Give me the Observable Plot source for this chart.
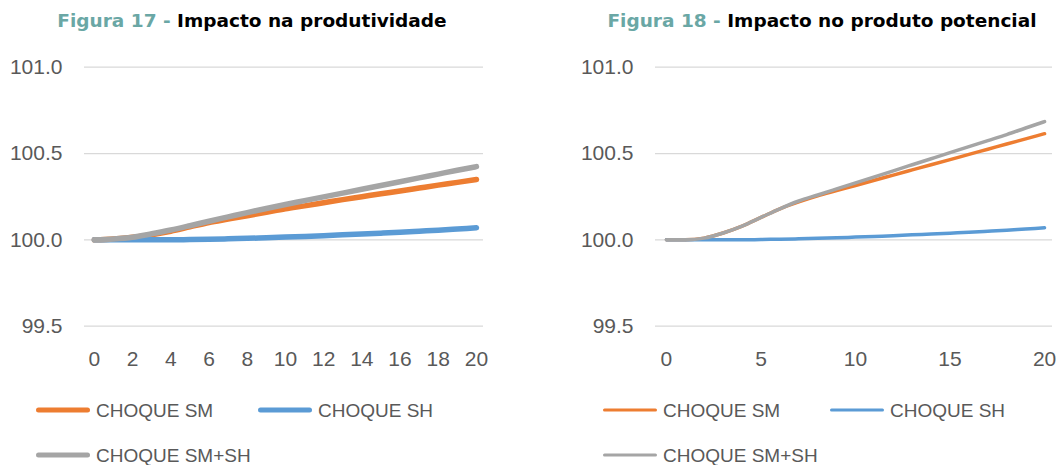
<!DOCTYPE html>
<html>
<head>
<meta charset="utf-8">
<script src="https://cdn.jsdelivr.net/npm/d3@7"></script>
<script src="https://cdn.jsdelivr.net/npm/@observablehq/plot@0.6"></script>
<style>
  html, body { margin: 0; padding: 0; background: #fff; }
  #root { position: relative; width: 1057px; height: 465px; overflow: hidden; }
  .title { position: absolute; top: 11px; font-family: "DejaVu Sans", Verdana, sans-serif; font-weight: bold; font-size: 18.5px; line-height: 1.1; white-space: nowrap; transform: translateX(-50%); color: #000; }
  .title .fig { color: #6aa7a5; }
  .chart { position: absolute; top: 0; }
  .leg { position: absolute; font-family: "Liberation Sans", sans-serif; font-size: 19px; line-height: 1; color: #595959; white-space: nowrap; display: flex; align-items: center; transform: translateY(-50%); }
  .sw { display: inline-block; width: 54px; border-radius: 3px; margin-right: 6px; }
</style>
</head>
<body>
<div id="root"></div>
<script>
// ---- data ----
const periods = d3.range(0, 21);

// Figura 17 - Impacto na produtividade
const prodSM   = [100.000,100.005,100.015,100.030,100.050,100.075,100.100,100.120,100.140,100.160,100.180,100.197,100.215,100.233,100.250,100.267,100.283,100.300,100.317,100.333,100.350];
const prodSH   = [100.000,100.000,100.000,100.000,100.000,100.002,100.004,100.006,100.009,100.012,100.016,100.020,100.024,100.029,100.034,100.039,100.044,100.050,100.056,100.063,100.070];
const prodSMSH = [100.000,100.005,100.015,100.035,100.057,100.082,100.108,100.133,100.158,100.182,100.205,100.227,100.249,100.271,100.293,100.315,100.337,100.359,100.381,100.403,100.424];

// Figura 18 - Impacto no produto potencial
const potSM   = [100.000,100.000,100.010,100.040,100.080,100.130,100.180,100.220,100.255,100.285,100.315,100.345,100.375,100.405,100.435,100.465,100.495,100.525,100.555,100.585,100.615];
const potSH   = [100.000,100.000,100.000,100.000,100.000,100.002,100.004,100.006,100.009,100.012,100.016,100.020,100.024,100.029,100.034,100.039,100.044,100.050,100.056,100.063,100.070];
const potSMSH = [100.000,100.000,100.010,100.040,100.080,100.130,100.180,100.225,100.260,100.295,100.330,100.365,100.400,100.435,100.470,100.505,100.540,100.575,100.610,100.648,100.685];

const seriesNames = ["CHOQUE SM", "CHOQUE SH", "CHOQUE SM+SH"];
const seriesColors = ["#ed7d31", "#5b9bd5", "#a5a5a5"];
const yTicks = [99.5, 100.0, 100.5, 101.0];
const xTicksLeft = [0, 2, 4, 6, 8, 10, 12, 14, 16, 18, 20];
const xTicksRight = [0, 5, 10, 15, 20];

function table(arrs) {
  const rows = [];
  arrs.forEach((arr, i) => arr.forEach((v, j) => rows.push({t: periods[j], v, s: seriesNames[i]})));
  return rows;
}

function makeChart({rows, width, marginLeft, marginRight, xDomain, xTicks, strokeWidth}) {
  return Plot.plot({
    width, height: 380,
    marginTop: 66.7, marginBottom: 54.3, marginLeft, marginRight,
    style: {fontFamily: '"Liberation Sans", sans-serif', fontSize: "21px", color: "#595959", background: "transparent", overflow: "visible"},
    x: {domain: xDomain, ticks: xTicks, tickFormat: d => String(d), tickSize: 0, tickPadding: 25, label: null},
    y: {domain: [99.5, 101.0], ticks: yTicks, tickFormat: d3.format(".1f"), tickSize: 0, tickPadding: 22, label: null},
    marks: [
      Plot.gridY(yTicks, {stroke: "#d9d9d9", strokeOpacity: 1, strokeWidth: 1.2}),
      ...seriesNames.map((name, i) => Plot.line(rows.filter(r => r.s === name), {
        x: "t", y: "v", stroke: seriesColors[i], strokeWidth, curve: "monotone-x", strokeLinecap: "round", strokeLinejoin: "round"
      })),
      Plot.axisX({ticks: xTicks, tickSize: 0, tickPadding: 25, tickFormat: d => String(d), fill: "#595959"}),
      Plot.axisY({ticks: yTicks, tickSize: 0, tickPadding: 22, tickFormat: d3.format(".1f"), fill: "#595959"})
    ]
  });
}

const root = document.getElementById("root");

// Left chart
const left = makeChart({rows: table([prodSM, prodSH, prodSMSH]), width: 528, marginLeft: 84, marginRight: 45, xDomain: [-0.52, 20.37], xTicks: xTicksLeft, strokeWidth: 5.5});
left.classList.add("chart"); left.style.left = "0px";
root.appendChild(left);

// Right chart
const right = makeChart({rows: table([potSM, potSH, potSMSH]), width: 529, marginLeft: 127, marginRight: 5, xDomain: [-0.58, 20.42], xTicks: xTicksRight, strokeWidth: 3.5});
right.classList.add("chart"); right.style.left = "528px";
root.appendChild(right);

// Titles
function title(text1, text2, cx) {
  const d = document.createElement("div");
  d.className = "title";
  d.style.left = cx + "px";
  d.innerHTML = `<span class="fig">${text1}</span>${text2}`;
  root.appendChild(d);
}
title("Figura 17 - ", "Impacto na produtividade", 252);
title("Figura 18 - ", "Impacto no produto potencial", 822);

// Legends
function legendItem(i, x, y, h) {
  const d = document.createElement("div");
  d.className = "leg";
  d.style.left = x + "px"; d.style.top = y + "px";
  d.innerHTML = `<span class="sw" style="height:${h}px;background:${seriesColors[i]}"></span>${seriesNames[i]}`;
  root.appendChild(d);
}
legendItem(0, 36, 410, 5.5); legendItem(1, 258, 410, 5.5); legendItem(2, 36, 455, 5.5);
legendItem(0, 603, 410, 3.5); legendItem(1, 830, 410, 3.5); legendItem(2, 603, 455, 3.5);
</script>
</body>
</html>
